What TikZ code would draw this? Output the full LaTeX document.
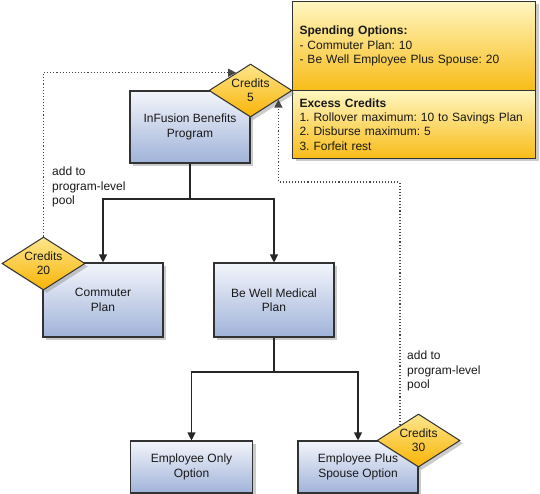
\documentclass[tikz,border=0pt]{standalone}
\usepackage{fontspec}
\setmainfont{Liberation Sans}
\usetikzlibrary{shapes.geometric,shadows,arrows.meta}
\definecolor{boxtop}{RGB}{243,245,251}
\definecolor{boxbot}{RGB}{160,179,217}
\definecolor{dtop}{RGB}{253,230,140}
\definecolor{dbot}{RGB}{248,180,5}
\definecolor{ytop}{RGB}{255,246,192}
\definecolor{ybot}{RGB}{248,188,24}
\definecolor{edge}{RGB}{50,50,50}
\definecolor{dotc}{RGB}{70,70,70}
\tikzset{
  planbox/.style={draw=edge, line width=1.1pt, top color=boxtop, bottom color=boxbot,
    minimum width=120pt, inner sep=2pt, align=center,
    drop shadow={shadow xshift=3pt, shadow yshift=-3pt, fill=black!45, opacity=0.45}},
  credit/.style={shape=diamond, draw=edge, line width=1pt, top color=dtop, bottom color=dbot,
    minimum width=83pt, minimum height=53pt, aspect=1.57, inner sep=0pt, align=center,
    drop shadow={shadow xshift=3pt, shadow yshift=-3pt, fill=black!45, opacity=0.45}},
  notebox/.style={draw=edge, line width=1pt, top color=ytop, bottom color=ybot,
    minimum width=243pt, text width=229pt, inner sep=7pt, align=left,
    drop shadow={shadow xshift=3pt, shadow yshift=-3pt, fill=black!45, opacity=0.45}},
  link/.style={draw=black!85, line width=1.1pt, -{Triangle[length=8pt,width=8pt]}},
  pool/.style={draw=dotc, line width=1.2pt, dash pattern=on 1.1pt off 2pt, -{Triangle[length=8pt,width=8pt,fill=dotc]}},
  lbl/.style={align=left, inner sep=0pt, anchor=west}
}
\begin{document}
\frenchspacing
\begin{tikzpicture}[x=1pt,y=-1pt, font=\fontsize{12}{14.3}\selectfont\frenchspacing, every node/.append style={text=black!90}]
\useasboundingbox (0,0) rectangle (540,494);
% yellow note
\node[notebox, minimum height=89pt, anchor=north west] (spend) at (292,1)
  {\textbf{Spending Options:}\\- Commuter Plan: 10\\- Be Well Employee Plus Spouse: 20};
\node[notebox, minimum height=68pt, anchor=north west] (excess) at (292,90)
  {\textbf{Excess Credits}\\1. Rollover maximum: 10 to Savings Plan\\2. Disburse maximum: 5\\3. Forfeit rest};
% plan boxes
\node[planbox, minimum height=72pt] (inf) at (190,127) {InFusion Benefits\\Program};
\node[planbox, minimum height=74pt] (com) at (103,300) {Commuter\\Plan};
\node[planbox, minimum height=74pt] (bw) at (274,300) {Be Well Medical\\Plan};
\node[planbox, minimum height=52pt, minimum width=122pt] (eo) at (191.5,467) {Employee Only\\Option};
\node[planbox, minimum height=52pt] (ep) at (358,467) {Employee Plus\\Spouse Option};
% credit diamonds
\node[credit] (c5) at (250.5,90.5) {Credits\\5};
\node[credit] (c20) at (43.5,263.5) {Credits\\20};
\node[credit] (c30) at (418.5,440.5) {Credits\\30};
% tree connectors
\coordinate (j1) at (0,199);
\coordinate (j2) at (0,372);
\draw[link] (inf.south) -- (inf.south |- j1) -| (com.north);
\draw[link] (inf.south) -- (inf.south |- j1) -| (bw.north);
\draw[link] (bw.south) -- (bw.south |- j2) -| (eo.north);
\draw[link] (bw.south) -- (bw.south |- j2) -| (ep.north);
% pool connectors
\coordinate (bend) at (0,182);
\draw[pool] (c20.north) |- (c5.129);
\draw[pool] (c30.141.5) -- (c30.141.5 |- bend) -- (c5.342 |- bend) -- (c5.342);
% labels
\node[lbl] (l1) at (52,187) {add to\\program-level\\pool};
\node[lbl] (l2) at (407,371) {add to\\program-level\\pool};
\end{tikzpicture}
\end{document}
